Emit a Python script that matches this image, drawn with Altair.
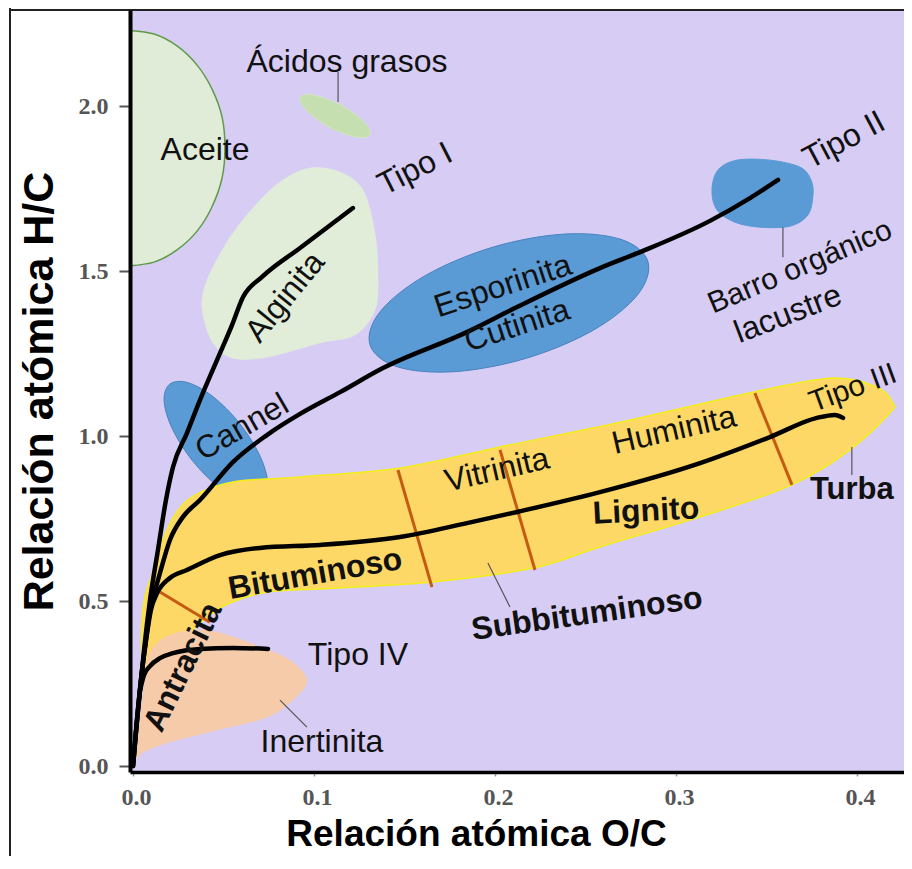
import altair as alt
import pandas as pd

# ---------------- axes ----------------
X_DOMAIN = [-0.00166, 0.4260]
Y_DOMAIN = [-0.018, 2.291]
X_TICKS = [0.0, 0.1, 0.2, 0.3, 0.4]
Y_TICKS = [0.0, 0.5, 1.0, 1.5, 2.0]
X_TITLE = "Relación atómica O/C"
Y_TITLE = "Relación atómica H/C"

# ---------------- regions (O/C, H/C outlines) ----------------
ACEITE_X = [-0.02, -0.004, 0.0116, 0.0243, 0.0354, 0.0436, 0.0492, 0.0508, 0.0492, 0.0436, 0.0354, 0.0243, 0.0116, -0.004, -0.02]
ACEITE_Y = [2.230, 2.230, 2.218, 2.182, 2.124, 2.052, 1.967, 1.873, 1.782, 1.694, 1.621, 1.564, 1.527, 1.515, 1.515]

ACIDOS_X = [0.1309, 0.1232, 0.1083, 0.0956, 0.0923, 0.1000, 0.1149, 0.1276]
ACIDOS_Y = [1.912, 1.906, 1.936, 1.988, 2.027, 2.033, 2.003, 1.952]

ALGINITA_X = [0.0978, 0.1144, 0.1271, 0.1337, 0.1354, 0.1337, 0.1227, 0.1033, 0.0740, 0.0552, 0.0442, 0.0387, 0.0387, 0.0442, 0.0552, 0.0702, 0.0829]
ALGINITA_Y = [1.812, 1.800, 1.745, 1.615, 1.482, 1.382, 1.306, 1.282, 1.239, 1.236, 1.282, 1.367, 1.433, 1.512, 1.615, 1.715, 1.776]

ESPORINITA_X = [0.2845, 0.2788, 0.2541, 0.2169, 0.1773, 0.1459, 0.1309, 0.1367, 0.1614, 0.1986, 0.2382, 0.2696]
ESPORINITA_Y = [1.529, 1.428, 1.320, 1.235, 1.195, 1.210, 1.277, 1.378, 1.486, 1.572, 1.612, 1.596]

CANNEL_X = [0.0714, 0.0615, 0.0474, 0.0329, 0.0219, 0.0172, 0.0203, 0.0302, 0.0443, 0.0588, 0.0698, 0.0745]
CANNEL_Y = [0.807, 0.802, 0.845, 0.925, 1.020, 1.105, 1.157, 1.162, 1.119, 1.039, 0.944, 0.858]

BARRO_X = [0.3337, 0.3519, 0.3685, 0.3746, 0.3757, 0.3729, 0.3630, 0.3464, 0.3326, 0.3227, 0.3199, 0.3232]
BARRO_Y = [1.836, 1.836, 1.815, 1.776, 1.730, 1.670, 1.636, 1.633, 1.648, 1.685, 1.745, 1.806]

CARBON_X = [0.0055, 0.0050, 0.0066, 0.0105, 0.0149, 0.0232, 0.0343, 0.0552, 0.0923, 0.1475, 0.2028, 0.2691, 0.3425, 0.3867, 0.4110, 0.4199, 0.4182, 0.3961, 0.3641, 0.3133, 0.2580, 0.2210, 0.1657, 0.1105, 0.0740, 0.0536, 0.0442, 0.0315, 0.0177, 0.0094]
CARBON_Y = [0.306, 0.427, 0.512, 0.579, 0.661, 0.761, 0.821, 0.861, 0.876, 0.903, 0.967, 1.042, 1.133, 1.176, 1.148, 1.100, 1.070, 0.958, 0.852, 0.755, 0.664, 0.600, 0.558, 0.539, 0.527, 0.494, 0.464, 0.406, 0.345, 0.306]

INERTINITA_X = [0.0022, 0.0039, 0.0066, 0.0094, 0.0204, 0.0387, 0.0536, 0.0702, 0.0867, 0.0961, 0.0884, 0.0740, 0.0464, 0.0188, 0.0055]
INERTINITA_Y = [0.027, 0.139, 0.261, 0.345, 0.397, 0.412, 0.394, 0.361, 0.321, 0.261, 0.200, 0.148, 0.109, 0.070, 0.042]

# ---------------- evolution paths ----------------
TIPO1_X = [0, 0.0017, 0.0039, 0.0061, 0.0094, 0.0138, 0.0182, 0.0221, 0.0298, 0.0370, 0.0464, 0.0547, 0.0608, 0.0713, 0.0923, 0.1215]
TIPO1_Y = [0, 0.109, 0.230, 0.352, 0.503, 0.655, 0.806, 0.906, 1.009, 1.109, 1.230, 1.336, 1.421, 1.482, 1.570, 1.691]

TIPO2_X = [0, 0.0022, 0.0044, 0.0072, 0.0099, 0.0122, 0.0149, 0.0204, 0.0276, 0.0370, 0.0552, 0.0740, 0.0923, 0.1144, 0.1381, 0.1845, 0.2122, 0.2580, 0.2818, 0.3188, 0.3409, 0.3564]
TIPO2_Y = [0, 0.139, 0.261, 0.382, 0.488, 0.533, 0.585, 0.685, 0.755, 0.806, 0.921, 1.003, 1.067, 1.133, 1.206, 1.315, 1.391, 1.509, 1.561, 1.652, 1.721, 1.776]

TIPO3_X = [0, 0.0022, 0.0044, 0.0072, 0.0099, 0.0133, 0.0204, 0.0298, 0.0481, 0.0702, 0.1033, 0.1475, 0.1845, 0.2122, 0.2580, 0.3133, 0.3519, 0.3779, 0.3878, 0.3923]
TIPO3_Y = [0, 0.139, 0.261, 0.382, 0.473, 0.524, 0.570, 0.594, 0.639, 0.661, 0.670, 0.694, 0.736, 0.770, 0.830, 0.918, 0.997, 1.055, 1.064, 1.055]

TIPO4_X = [0.0039, 0.0061, 0.0094, 0.0149, 0.0221, 0.0370, 0.0552, 0.0746]
TIPO4_Y = [0.230, 0.276, 0.303, 0.327, 0.342, 0.355, 0.358, 0.355]

# rank boundaries (orange) and leader lines
SEP_X1 = [0.0133, 0.1464, 0.2028, 0.3436]
SEP_Y1 = [0.533, 0.897, 0.958, 1.130]
SEP_X2 = [0.0425, 0.1652, 0.2221, 0.3641]
SEP_Y2 = [0.436, 0.542, 0.594, 0.852]

LEAD_X1 = [0.1133, 0.3591, 0.3972, 0.1961, 0.0812]
LEAD_Y1 = [2.103, 1.633, 0.967, 0.615, 0.200]
LEAD_X2 = [0.1133, 0.3591, 0.3972, 0.2083, 0.0961]
LEAD_Y2 = [2.012, 1.542, 0.882, 0.482, 0.118]

# ---------------- labels ----------------
LABELS = ["Aceite", "Ácidos grasos", "Tipo I", "Alginita", "Esporinita", "Cutinita",
          "Tipo II", "Barro orgánico", "lacustre", "Cannel", "Vitrinita", "Huminita",
          "Tipo III", "Tipo IV", "Inertinita"]
LABEL_X = [0.0398, 0.1182, 0.1558, 0.0840, 0.2044, 0.2122, 0.3928, 0.3685, 0.3619, 0.0602, 0.2011, 0.2989, 0.3978, 0.1243, 0.1044]
LABEL_Y = [1.867, 2.133, 1.809, 1.421, 1.455, 1.335, 1.897, 1.512, 1.370, 1.027, 0.897, 1.018, 1.145, 0.336, 0.073]
LABEL_ANG = [0, 0, 333, 309, 342, 342, 332, 337, 339, 330, 347, 347, 340, 0, 0]
LABEL_SIZE = [32, 32, 32, 32, 32, 32, 32, 30, 32, 32, 32, 32, 30, 32, 32]

BOLD_LABELS = ["Bituminoso", "Lignito", "Subbituminoso", "Turba", "Antracita"]
BOLD_X = [0.1006, 0.2834, 0.2508, 0.3972, 0.0276]
BOLD_Y = [0.582, 0.773, 0.461, 0.836, 0.300]
BOLD_ANG = [350, 357, 352, 0, 296]
BOLD_SIZE = [32, 32, 32, 31, 32]

# ---------------- encodings ----------------
XS = alt.Scale(domain=X_DOMAIN, nice=False, zero=False)
YS = alt.Scale(domain=Y_DOMAIN, nice=False, zero=False)

X_AXIS = alt.Axis(values=X_TICKS, format=".1f", grid=False, zindex=1,
                  domainColor="#000000", domainWidth=3.5,
                  tickColor="#999999", tickSize=4, tickWidth=1.5,
                  labelFont="Liberation Serif", labelFontSize=24, labelFontWeight="bold",
                  labelColor="#555555", labelPadding=9, labelOffset=3,
                  labelFlush=False, labelOverlap=False,
                  titleFont="Liberation Sans", titleFontSize=37, titleFontWeight="bold",
                  titleColor="#000000", titleX=346, titleY=62,
                  titleAlign="center", titleBaseline="middle")
Y_AXIS = alt.Axis(values=Y_TICKS, format=".1f", grid=False, zindex=1,
                  domainColor="#000000", domainWidth=4,
                  tickColor="#555555", tickSize=11, tickWidth=2,
                  labelFont="Liberation Serif", labelFontSize=24, labelFontWeight="bold",
                  labelColor="#555555", labelPadding=11,
                  labelFlush=False, labelOverlap=False,
                  titleFont="Liberation Sans", titleFontSize=43, titleFontWeight="bold",
                  titleColor="#000000", titleAngle=270, titleX=-91, titleY=381,
                  titleAlign="center", titleBaseline="middle")


def xenc():
    return alt.X("oc:Q", scale=XS, axis=X_AXIS, title=X_TITLE)


def yenc():
    return alt.Y("hc:Q", scale=YS, axis=Y_AXIS, title=Y_TITLE)


def poly(px, py, fill, stroke=None, sw=0.5, interp="cardinal-closed"):
    df = pd.DataFrame({"oc": px, "hc": py, "k": list(range(len(px)))})
    return alt.Chart(df).mark_line(
        interpolate=interp, fill=fill, stroke=stroke if stroke else fill,
        strokeWidth=sw, clip=True
    ).encode(x=xenc(), y=yenc(), order=alt.Order("k:Q"))


def path(px, py, color="#000000", width=4.5):
    df = pd.DataFrame({"oc": px, "hc": py, "k": list(range(len(px)))})
    return alt.Chart(df).mark_line(
        interpolate="monotone", color=color, strokeWidth=width,
        strokeCap="round", strokeJoin="round", clip=True
    ).encode(x=xenc(), y=yenc(), order=alt.Order("k:Q"))


def segs(x1, y1, x2, y2, color, width):
    df = pd.DataFrame({"oc": x1, "hc": y1, "oc2": x2, "hc2": y2})
    return alt.Chart(df).mark_rule(color=color, strokeWidth=width, clip=True).encode(
        x=xenc(), y=yenc(), x2="oc2:Q", y2="hc2:Q")


def texts(lab, lx, ly, ang, size, weight):
    df = pd.DataFrame({"lab": lab, "oc": lx, "hc": ly, "ang": ang, "sz": size})
    return alt.Chart(df).mark_text(
        font="Liberation Sans", fontWeight=weight, color="#111111",
        align="center", baseline="middle"
    ).encode(x=xenc(), y=yenc(), text="lab:N",
             angle=alt.Angle("ang:Q", scale=None),
             size=alt.Size("sz:Q", scale=None, legend=None))


BLUE = "#5b9bd5"
BLUE_EDGE = "#4a82bd"

layers = [
    poly(ACEITE_X, ACEITE_Y, "#e1ecd8", "#5f9a4a", 1.5),
    poly(ACIDOS_X, ACIDOS_Y, "#c5dfb0", "#d2e6c2", 1),
    poly(ALGINITA_X, ALGINITA_Y, "#e1edd8"),
    poly(ESPORINITA_X, ESPORINITA_Y, BLUE, BLUE_EDGE, 1),
    poly(CANNEL_X, CANNEL_Y, BLUE, BLUE_EDGE, 1),
    poly(BARRO_X, BARRO_Y, BLUE, BLUE, 1),
    poly(CARBON_X, CARBON_Y, "#fdd866", "#f4ef1a", 1.5),
    poly(INERTINITA_X, INERTINITA_Y, "#f6cbaa"),
    segs(SEP_X1, SEP_Y1, SEP_X2, SEP_Y2, "#c55a11", 3),
    path(TIPO1_X, TIPO1_Y),
    path(TIPO2_X, TIPO2_Y),
    path(TIPO3_X, TIPO3_Y),
    path(TIPO4_X, TIPO4_Y),
    segs(LEAD_X1, LEAD_Y1, LEAD_X2, LEAD_Y2, "#555555", 1.2),
    texts(LABELS, LABEL_X, LABEL_Y, LABEL_ANG, LABEL_SIZE, "normal"),
    texts(BOLD_LABELS, BOLD_X, BOLD_Y, BOLD_ANG, BOLD_SIZE, "bold"),
]

frame_df = pd.DataFrame({"z": [0]})
frame_left = alt.Chart(frame_df).mark_rule(color="#222222", strokeWidth=2).encode(
    x=alt.value(-120), y=alt.value(-5), y2=alt.value(900))
frame_top = alt.Chart(frame_df).mark_rule(color="#222222", strokeWidth=2).encode(
    y=alt.value(0), x=alt.value(-120), x2=alt.value(800))

chart = alt.layer(*layers, frame_left, frame_top).properties(
    width=774, height=762,
    padding={"left": 122, "top": 2, "right": 0, "bottom": 84},
    autosize=alt.AutoSizeParams(type="none"),
    background="white",
).configure_view(fill="#d6ccf4", stroke=None)

chart.save("out.html", embed_options={"renderer": "svg", "actions": False})
